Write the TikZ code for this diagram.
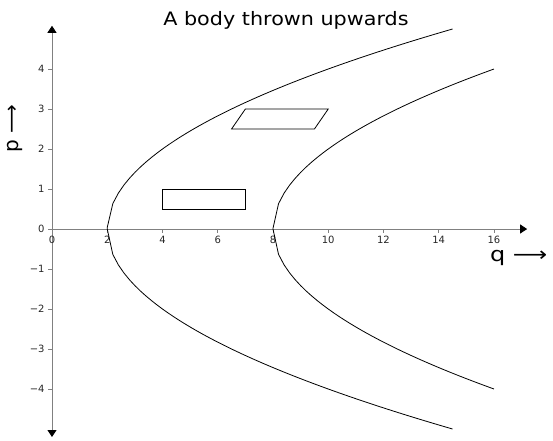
\documentclass[tikz,border=0pt]{standalone}
\usepackage{fontspec}
\setmainfont{DejaVu Sans}
\usetikzlibrary{arrows.meta}
\tikzset{
  axis/.style={color=gray, line width=0.9pt},
  axtip/.tip={Triangle[color=black, length=7pt, width=9pt]},
  orbit/.style={line width=0.8pt},
  cell/.style={line width=0.8pt},
  ticklabel/.style={font=\fontsize{10}{12}\selectfont, text=black!85, inner sep=0pt}
}

\begin{document}
\begin{tikzpicture}[x=27.625pt, y=40pt]
    \useasboundingbox (-1.882,-5.275) rectangle (18.136,5.725);
    % axes
    \draw[axis, -axtip] (0,0) -- (17.2,0);
    \draw[axis, axtip-axtip] (0,-5.2) -- (0,5.08);
    \foreach \x in {0,2,...,16}
        \draw[axis] (\x,0) -- ++(0,-3.5pt) node[ticklabel, below=3.5pt] (xt\x) {\x};
    \foreach \y in {-4,...,4}
        \draw[axis] (0,\y) -- ++(-3.5pt,0) node[ticklabel, left=3.5pt] (yt\y) {\ifnum\y<0 −\number-\y\else\y\fi};
    % level curves
    \draw[orbit] plot[domain=12.5:0, samples=63] ({2+\x},{sqrt(2*\x)})
        -- plot[domain=0:12.5, samples=63] ({2+\x},{-sqrt(2*\x)});
    \draw[orbit] plot[domain=8:0, samples=41] ({8+\x},{sqrt(2*\x)})
        -- plot[domain=0:8, samples=41] ({8+\x},{-sqrt(2*\x)});
    % phase cells
    \draw[cell] (4,0.5) rectangle (7,1);
    \draw[cell] (6.5,2.5) -- (9.5,2.5) -- (10,3) -- (7,3) -- cycle;
    % labels
    \node[anchor=base, font=\fontsize{18.5}{20}\selectfont, xscale=1.12] (title) at (8.47,5.08) {A body thrown upwards};
    \node[anchor=west, font=\fontsize{20}{24}\selectfont, xscale=1.2, inner sep=0pt] (qlabel) at (15.85,-0.72) {q ⟶};
    \node[rotate=90, font=\fontsize{20}{24}\selectfont, inner sep=0pt] (plabel) at (-1.34,2.5) {p ⟶};
\end{tikzpicture}
\end{document}
